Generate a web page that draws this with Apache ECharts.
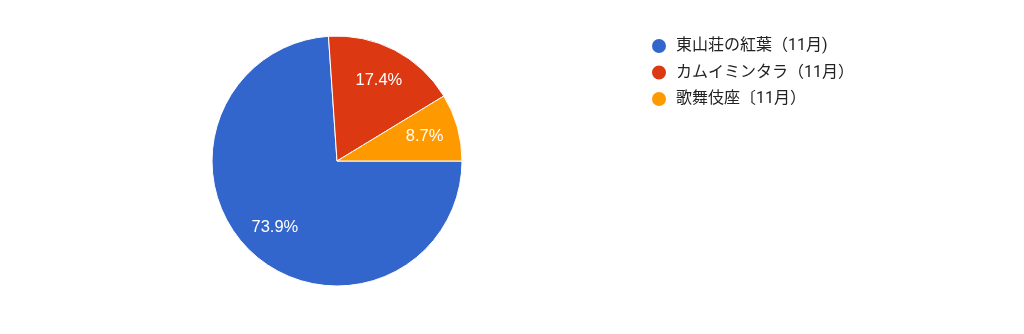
<!DOCTYPE html>
<html>
<head>
<meta charset="utf-8">
<script src="https://cdn.jsdelivr.net/npm/echarts@6/dist/echarts.min.js"></script>
<style>
html,body{margin:0;padding:0;background:#fff;}
#c{width:1024px;height:334px;}
</style>
</head>
<body>
<div id="c"></div>
<script>
const categories = ['東山荘の紅葉（11月)', 'カムイミンタラ（11月）', '歌舞伎座〔11月）'];
const values = [17, 4, 2];
const colors = ['#3366cc', '#dc3912', '#ff9900'];

const chart = echarts.init(document.getElementById('c'), null, {renderer: 'canvas'});
const pieData = categories.map((n, i) => ({name: n, value: values[i], itemStyle: {color: colors[i]}}));
const labelData = categories.map((n, i) => ({name: n, value: values[i]}));

chart.setOption({
  animation: false,
  backgroundColor: '#ffffff',
  legend: {
    orient: 'vertical',
    left: 645,
    top: 32,
    icon: 'circle',
    itemWidth: 20,
    itemHeight: 16,
    itemGap: 8.5,
    data: categories,
    selectedMode: false,
    textStyle: {
      fontFamily: "Roboto, 'Noto Sans CJK JP', sans-serif",
      fontSize: 16,
      color: '#222222',
      padding: [0, 0, 0, 2],
      lineHeight: 16
    }
  },
  series: [
    {
      type: 'pie',
      center: [337, 161],
      radius: 125,
      startAngle: 0,
      clockwise: true,
      avoidLabelOverlap: false,
      silent: true,
      label: {show: false},
      labelLine: {show: false},
      itemStyle: {borderColor: '#ffffff', borderWidth: 1},
      data: pieData
    },
    {
      type: 'pie',
      center: [337, 161],
      radius: 176,
      startAngle: 0,
      clockwise: true,
      avoidLabelOverlap: false,
      silent: true,
      percentPrecision: 1,
      itemStyle: {color: 'rgba(0,0,0,0)', borderWidth: 0},
      label: {
        show: true,
        position: 'inside',
        formatter: '{d}%',
        color: '#ffffff',
        fontSize: 16.5,
        fontFamily: "'Liberation Sans', Arial, sans-serif"
      },
      labelLine: {show: false},
      data: labelData
    }
  ]
});
</script>
</body>
</html>
